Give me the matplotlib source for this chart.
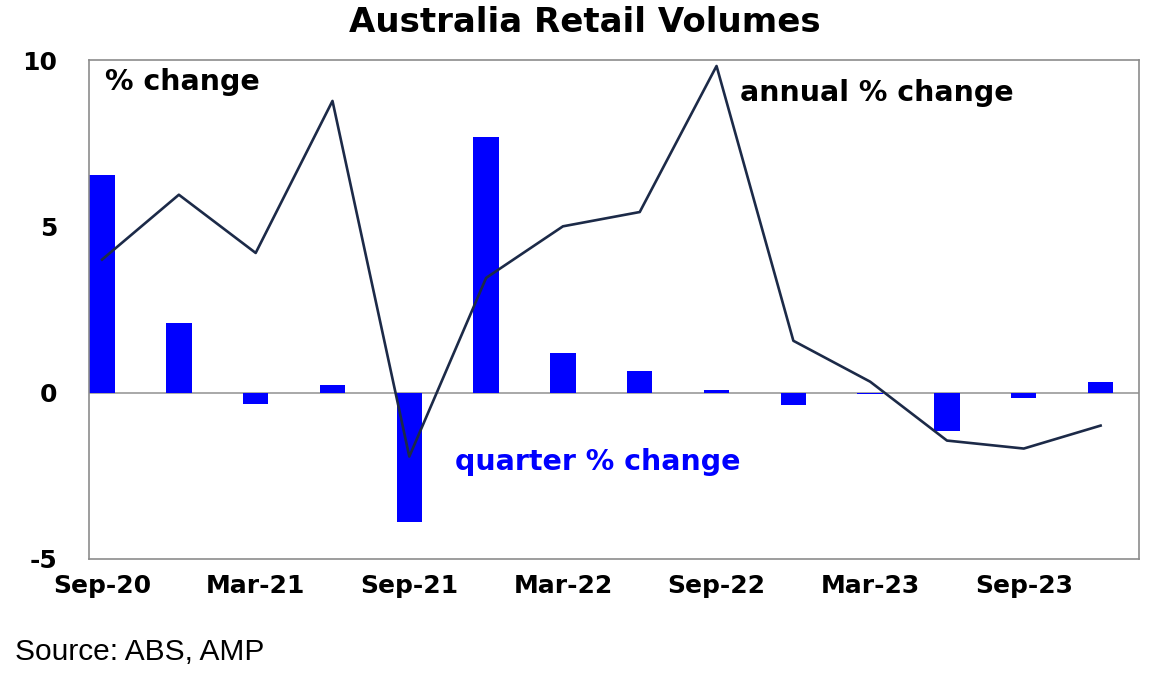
import matplotlib
matplotlib.use('Agg')
import matplotlib.pyplot as plt
import numpy as np

quarters = ['Sep-20', 'Dec-20', 'Mar-21', 'Jun-21', 'Sep-21', 'Dec-21', 'Mar-22',
            'Jun-22', 'Sep-22', 'Dec-22', 'Mar-23', 'Jun-23', 'Sep-23', 'Dec-23']
quarter_change = [6.55, 2.1, -0.33, 0.24, -3.9, 7.7, 1.2, 0.65, 0.07, -0.36, -0.05, -1.14, -0.15, 0.33]
annual_change = [4.0, 5.95, 4.2, 8.77, -1.92, 3.45, 5.0, 5.43, 9.82, 1.56, 0.33, -1.44, -1.68, -0.99]

# wide bold face, the reference lettering is stretched
plt.rcParams['font.family'] = ['DejaVu Sans']

fig = plt.figure(figsize=(11.67, 6.87), dpi=100)
ax = fig.add_axes([89 / 1167, 1 - 559 / 687, 1050 / 1167, 499 / 687])

x = np.arange(len(quarters))
ax.bar(x, quarter_change, width=0.33, color='#0000ff', zorder=2)
ax.plot(x, annual_change, color='#1c2a48', linewidth=1.9, zorder=3)
ax.axhline(0, color='#9a9a9a', linewidth=1.2, zorder=1)

ax.set_xlim(-0.17, 13.5)
ax.set_ylim(-5, 10)
ax.set_yticks([-5, 0, 5, 10])
ax.set_yticklabels(['-5', '0', '5', '10'], fontsize=18, fontweight='bold')
ax.set_xticks(x[::2])
ax.set_xticklabels(quarters[::2], fontsize=18, fontweight='bold')
ax.tick_params(axis='both', length=0)
ax.tick_params(axis='y', pad=23)
ax.tick_params(axis='x', pad=11)
for s in ax.spines.values():
    s.set_color('#8c8c8c')
    s.set_linewidth(1.2)

ax.text(0.04, 9.35, '% change', fontsize=20.5, fontweight='bold', va='center')
ax.text(8.31, 9.0, 'annual % change', fontsize=20.5, fontweight='bold', va='center')
ax.text(4.6, -2.07, 'quarter % change', fontsize=20.5, fontweight='bold', va='center',
        color='#0000ff')

fig.text(585 / 1167, 1 - 23 / 687, 'Australia Retail Volumes', fontsize=24.5,
         fontweight='bold', ha='center', va='center')
fig.text(15 / 1167, 1 - 652 / 687, 'Source: ABS, AMP', fontsize=21.5, va='center',
         family=['Liberation Sans'])

fig.savefig('out.png', dpi=100)
